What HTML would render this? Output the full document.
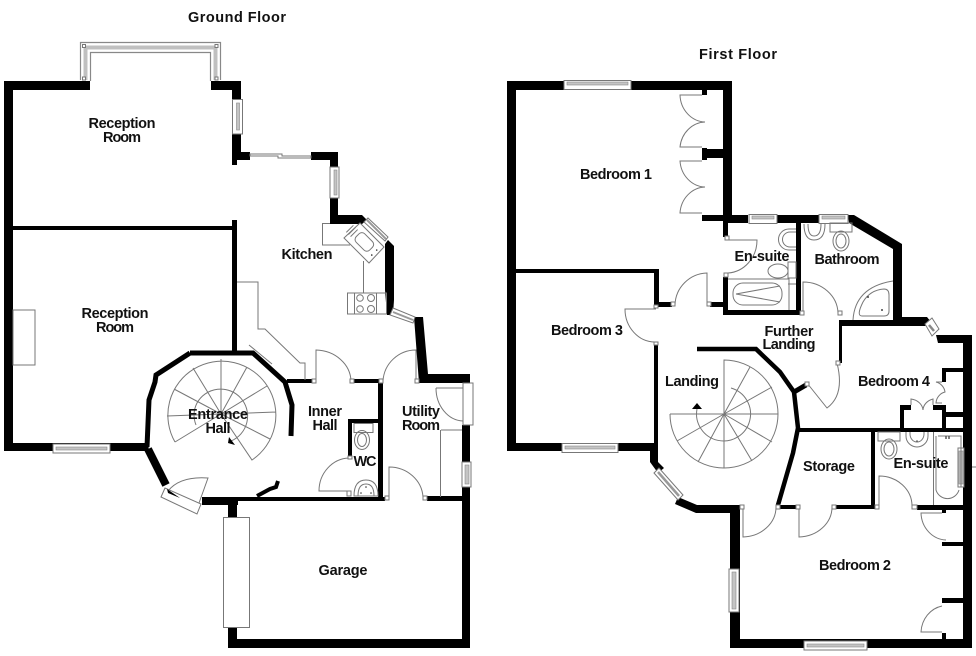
<!DOCTYPE html>
<html><head><meta charset="utf-8"><style>
html,body{margin:0;padding:0;background:#fff}
svg{display:block;filter:blur(.35px)}
text{font-family:"Liberation Sans",sans-serif;font-weight:bold;font-size:14.5px;fill:#111;text-anchor:middle}
.t{fill:none;stroke:#777;stroke-width:1}
.w{fill:#000}
.k{fill:none;stroke:#000}
.win{fill:#fff;stroke:#777;stroke-width:1}
.g{fill:#c4c4c4;stroke:#888;stroke-width:.6}
.h{fill:#fff;stroke:#777;stroke-width:1}
</style></head><body>
<svg width="976" height="656" viewBox="0 0 976 656" xmlns="http://www.w3.org/2000/svg">
<!-- GROUND FLOOR walls -->
<path class="w" d="M4 81H90V90H13V443H148L149 451H4Z"/>
<path class="w" d="M211 81H241V99H232V90H211Z"/>
<path class="w" d="M232 134H241V152H250V160H237V165H232Z"/>
<path class="w" d="M311 152H338V167H330V160H311Z"/>
<path class="w" d="M330 198H338V215H362L367 220L362 224H330Z"/>
<path class="w" d="M385 244L388 240L394 246V300L393 315H387L385 290Z"/>
<path class="w" d="M414 317H423L428 374H470V383H419Z"/>
<path class="w" d="M462 425H470V648H228V628H237V639H462Z"/>
<rect class="w" x="228" y="497" width="9" height="20"/>
<rect class="w" x="202" y="497" width="36" height="8"/>
<rect class="w" x="237" y="497" width="148" height="4"/>
<rect class="w" x="427" y="496" width="36" height="5"/>
<rect class="w" x="378" y="383" width="5" height="115"/>
<rect class="w" x="287" y="379" width="25" height="4"/>
<rect class="w" x="353" y="379" width="27" height="4"/>
<rect class="w" x="348" y="419" width="32" height="4"/>
<rect class="w" x="348" y="419" width="4" height="38"/>
<rect class="w" x="13" y="226" width="220" height="4"/>
<rect class="w" x="232" y="220" width="5" height="132"/>
<path class="k" stroke-width="5" d="M190 353H253L285 382L292 405L291 436"/>
<path class="k" stroke-width="5" d="M190 353L156 375L155 382L149 400L147 447"/>
<path class="k" stroke-width="8" d="M148 449L166 485"/>
<path class="k" stroke-width="4" d="M257 496L270 489L276 487L278 481"/>
<!-- reception details -->
<rect class="t" x="13" y="310" width="22" height="55"/>
<path d="M80.500 80V42.500H220.500V80M90.500 81V52.500H210.500V81" fill="none" stroke="#888" stroke-width="1.200"/>
<path d="M85.500 80V47.500H215.500V80" fill="none" stroke="#c0c0c0" stroke-width="4"/>
<rect class="h" x="82.500" y="44.500" width="3" height="3"/>
<rect class="h" x="215" y="44.500" width="3" height="3"/>
<rect class="h" x="82.500" y="77" width="3" height="3"/>
<rect class="h" x="215" y="77" width="3" height="3"/>
<rect class="win" x="232.500" y="99.500" width="10" height="34.500"/>
<rect class="g" x="236.500" y="103" width="3" height="27"/>
<path class="win" d="M250 154H282V156H311V158H278V156H250Z"/>
<rect class="win" x="330" y="167" width="9" height="31"/>
<rect class="g" x="334" y="170" width="3" height="25"/>
<!-- kitchen -->
<path class="t" d="M330 223.500H322.500V245H350"/>
<path class="win" d="M344 238L360 223L384 247L369 263Z"/>
<g transform="rotate(45 364 243)">
<rect class="t" x="354" y="236" width="19" height="12" rx="4"/>
<path class="t" d="M344 238V248M347 238V248M350 238V248"/>
<circle cx="378" cy="239" r=".8" fill="#333"/><circle cx="378" cy="246" r=".8" fill="#333"/>
</g>
<path class="win" d="M368 218L388 237L385 241L364 222Z"/>
<path d="M367 220L386 239" stroke="#999" stroke-width="2" fill="none"/>
<path class="t" d="M363.500 261V293"/>
<rect class="t" x="347.500" y="293" width="39" height="21"/>
<rect class="t" x="354.500" y="293" width="22" height="21"/>
<circle class="t" cx="360" cy="298" r="3.300"/><circle class="t" cx="371" cy="298" r="3.500"/><circle class="t" cx="360" cy="309" r="3.300"/><circle class="t" cx="371" cy="309" r="3.500"/>
<path class="win" d="M393 308L415 317L413 323L390 315Z"/>
<path d="M393 312L413 320" stroke="#999" stroke-width="2" fill="none"/>
<path class="t" d="M237 282H258V329H265L300 363H305V380M249 345L272 364"/>
<!-- stairs ground -->
<path class="t" d="M175 442A54 54 0 1 1 252 460L221 414L175 442M167 416L221 414M174 389L221 414M193 368L221 414M221 359V414M247 367L221 414M267 386L221 414M276 412L221 414M270 439L221 414"/>
<path class="t" d="M197 403A27 27 0 1 1 231 441M197 403A27 27 0 0 0 196 425"/>
<path class="w" d="M229 437L235 445L228 443Z"/>
<!-- doors ground -->
<path class="t" d="M316 381V350A36 32 0 0 1 351 381"/>
<path class="t" d="M416 381V350A33 33 0 0 0 383 381"/>
<path class="t" d="M389 497V467A34 32 0 0 1 423 497"/>
<path class="t" d="M350 491H319A31 33 0 0 1 349 458"/>
<path class="t" d="M436 388H463M436 388A28 33 0 0 0 463 421"/>
<rect class="win" x="463" y="383" width="10" height="42"/>
<path class="t" d="M441 430H462M440.500 430V497"/>
<rect class="win" x="462" y="462" width="9" height="25"/>
<rect class="g" x="465" y="465" width="4" height="19"/>
<path class="win" d="M165 488L161 497L197 514L201 504Z"/>
<path class="t" d="M168 491Q180 476 208 478L199 503"/>
<path class="w" d="M167 489L180 498L168 493Z"/>
<rect class="win" x="223.500" y="517.500" width="26" height="110"/>
<rect class="win" x="53" y="444" width="57" height="9"/>
<rect class="g" x="56" y="447" width="51" height="3"/>
<!-- WC -->
<rect class="t" x="354" y="423.500" width="19" height="9"/>
<ellipse class="t" cx="362" cy="440" rx="7.500" ry="9.500"/><ellipse class="t" cx="362" cy="440" rx="4.500" ry="6.500"/>
<path class="t" d="M354 496Q354 480 366 480Q378 480 378 496Z"/><path class="t" d="M358 496Q358 484 366 484Q374 484 374 496Z"/>
<circle cx="366" cy="487" r=".8" fill="#333"/><circle cx="361" cy="493" r=".8" fill="#333"/><circle cx="371" cy="493" r=".8" fill="#333"/>
<rect class="h" x="348" y="456" width="4" height="3"/>
<rect class="h" x="347" y="491" width="4" height="5"/>
<rect class="h" x="312" y="379" width="4" height="4"/>
<rect class="h" x="350" y="379" width="4" height="4"/>
<rect class="h" x="415" y="379" width="4" height="4"/>
<rect class="h" x="379" y="379" width="4" height="4"/>
<rect class="h" x="385" y="496" width="4" height="4"/>
<rect class="h" x="423" y="496" width="4" height="4"/>

<!-- FIRST FLOOR walls -->
<path class="w" d="M507 81H564V90H516V443H562V451H507Z"/>
<rect class="w" x="618" y="443" width="33" height="8"/>
<path class="w" d="M631 81H732V215H748V223H728V237H723V158H707V160H702V148H707V149H723V90H707V95H702V90H631Z"/>
<path class="w" d="M702 215H723V221H702Z"/>
<path class="w" d="M777 215H819V223H801V315H723V277H728V310H796V223H777Z"/>
<path class="w" d="M848 215H854L902 244V317H927L931 322L925 326H842V363H839V320H893V249L849 223Z"/>
<path class="w" d="M936 335H972V648H730V505H740V639H963V343H938Z"/>
<rect class="w" x="516" y="269" width="142" height="4"/>
<rect class="w" x="654" y="269" width="5" height="38"/>
<rect class="w" x="654" y="302" width="18" height="5"/>
<rect class="w" x="710" y="302" width="15" height="5"/>
<rect class="w" x="654" y="343" width="4" height="100"/>
<path class="w" d="M650 443H658V462L664 468L658 473L650 462Z"/>
<path class="w" d="M678 497L697 505H740V513H696L675 504Z"/>
<path class="k" stroke-width="4.500" d="M697 349H756L780 372L794 392L798 428L793 453L778 505"/>
<path class="k" stroke-width="5" d="M794 392L806 385"/>
<rect class="w" x="798" y="428" width="165" height="4"/>
<rect class="w" x="871" y="432" width="4" height="73"/>
<rect class="w" x="778" y="505" width="19" height="4"/>
<rect class="w" x="835" y="505" width="40" height="4"/>
<rect class="w" x="917" y="505" width="46" height="5"/>
<rect class="w" x="942" y="510" width="4" height="3"/>
<rect class="w" x="942" y="542" width="21" height="4"/>
<rect class="w" x="942" y="598" width="21" height="5"/>
<rect class="w" x="942" y="633" width="4" height="6"/>
<rect class="w" x="942" y="368" width="21" height="4"/>
<rect class="w" x="942" y="368" width="4" height="14"/>
<rect class="w" x="945" y="412" width="18" height="5"/>
<rect class="w" x="942" y="405" width="4" height="24"/>
<rect class="w" x="933" y="405" width="12" height="5"/>
<rect class="w" x="900" y="405" width="11" height="5"/>
<rect class="w" x="900" y="405" width="4" height="24"/>
<!-- windows first -->
<rect class="win" x="564" y="80.500" width="67" height="9"/>
<rect class="g" x="567" y="82" width="61" height="3"/>
<rect class="win" x="749" y="214.500" width="28" height="9"/>
<rect class="g" x="752" y="216" width="22" height="3"/>
<rect class="win" x="819" y="214.500" width="29" height="9"/>
<rect class="g" x="822" y="216" width="23" height="3"/>
<rect class="win" x="562" y="443.500" width="56" height="9"/>
<rect class="g" x="565" y="446" width="50" height="3"/>
<rect class="win" x="729" y="569" width="10" height="43"/>
<rect class="g" x="732" y="572" width="4" height="37"/>
<rect class="win" x="804" y="641" width="63" height="9"/>
<rect class="g" x="807" y="644" width="57" height="3"/>
<path class="win" d="M654 473L659 468L683 495L678 500Z"/>
<path d="M658 472L679 496" stroke="#999" stroke-width="2.500" fill="none"/>
<path class="win" d="M925 324L932 318L939 329L932 336Z"/>
<path d="M929 325L934 331" stroke="#888" stroke-width="2.500" fill="none"/>
<rect class="win" x="958" y="448" width="6" height="39"/>
<rect class="g" x="959" y="451" width="4" height="33"/>
<!-- doors first -->
<path class="t" d="M702 95H680A26 28 0 0 0 705 122A26 28 0 0 0 680 147H702"/>
<path class="t" d="M702 161H680A26 28 0 0 0 705 187A26 28 0 0 0 680 213H702"/>
<path class="t" d="M726 240H757A31 33 0 0 1 728 273"/>
<path class="t" d="M707 303V273A33 33 0 0 0 675 305"/>
<path class="t" d="M656 309H625A30 33 0 0 0 655 342"/>
<path class="t" d="M803 313V282A35 32 0 0 1 838 313"/>
<path class="t" d="M807 383L827 408Q845 395 837 363"/>
<path class="t" d="M743 507V537A34 30 0 0 0 776 507"/>
<path class="t" d="M799 507V537A34 30 0 0 0 832 507"/>
<path class="t" d="M879 506V476A33 30 0 0 1 912 506"/>
<path class="t" d="M942 513H921A26 28 0 0 0 946 540"/>
<path class="t" d="M942 632H921A26 28 0 0 1 942 606"/>
<path class="t" d="M911 405V399A14 12 0 0 1 923 410A14 12 0 0 1 933 399V405"/>
<path class="t" d="M942 382H936A12 12 0 0 1 945 392A12 12 0 0 0 936 403H942"/>
<!-- landing stair -->
<path class="t" d="M670 414A54 54 0 1 0 724 360V414H670M750 367L724 414M772 387L724 414M778 414H724M772 442L724 414M752 461L724 414M724 468V414M698 462L724 414M677 441L724 414"/>
<path class="t" d="M731 388A27 27 0 1 1 697 409"/>
<path class="w" d="M692 409H702L697 403Z"/>
<!-- en-suite 1 -->
<path class="t" d="M796 229H789A10.500 10.500 0 0 0 789 250H796"/>
<path class="t" d="M796 232H790A7.500 7.500 0 0 0 790 247H796"/>
<ellipse class="t" cx="778" cy="271" rx="10" ry="7"/>
<rect class="t" x="788" y="262" width="8" height="16"/>
<path class="t" d="M728 279H789V310M788 284H796"/>
<rect class="t" x="733" y="283" width="49" height="22" rx="10"/>
<path class="t" d="M736 294L780 286M736 294L780 302"/>
<!-- bathroom -->
<path class="t" d="M804 224Q804 240 814 240Q825 240 825 224"/>
<path class="t" d="M808 224Q808 236 814 236Q821 236 821 224"/>
<rect class="t" x="830" y="223" width="22" height="9"/>
<ellipse class="t" cx="841" cy="241" rx="8" ry="10"/><ellipse class="t" cx="841" cy="241" rx="5" ry="7"/>
<path class="t" d="M853 320Q855 287 893 281"/>
<path class="t" d="M862 316Q856 316 863 302Q870 290 884 289Q889 289 889 295V311Q889 316 884 316Z"/>
<circle cx="868" cy="297" r="1" fill="#444"/><circle cx="882" cy="310" r="1" fill="#444"/>
<!-- en-suite 2 -->
<rect class="t" x="878" y="432" width="22" height="9"/>
<ellipse class="t" cx="889" cy="449" rx="8" ry="10"/><ellipse class="t" cx="889" cy="449" rx="5" ry="7"/>
<path class="t" d="M906 432V436A11 11 0 0 0 928 436V432"/>
<path class="t" d="M910 432V434A7 8 0 0 0 924 434V432"/>
<path class="t" d="M933.500 432V505M938 436H961V487M936 436V490A12 12 0 0 0 959 490"/>
<circle cx="917" cy="441" r=".8" fill="#444"/>
<path d="M946 436V439M949 436V439" stroke="#555" stroke-width="1.500"/>
<path class="t" d="M972 467H976"/>
<!-- hinges -->
<rect class="h" x="725" y="236" width="4" height="4"/>
<rect class="h" x="724" y="273" width="4" height="4"/>
<rect class="h" x="671" y="302" width="4" height="4"/>
<rect class="h" x="707" y="302" width="4" height="4"/>
<rect class="h" x="654" y="305" width="4" height="3"/>
<rect class="h" x="654" y="342" width="4" height="3"/>
<rect class="h" x="800" y="311" width="4" height="4"/>
<rect class="h" x="838" y="311" width="4" height="4"/>
<rect class="h" x="836" y="361" width="4" height="4"/>
<rect class="h" x="805" y="382" width="4" height="4"/>
<rect class="h" x="740" y="505" width="4" height="4"/>
<rect class="h" x="776" y="505" width="4" height="4"/>
<rect class="h" x="796" y="505" width="4" height="4"/>
<rect class="h" x="832" y="505" width="4" height="4"/>
<rect class="h" x="875" y="505" width="4" height="4"/>
<rect class="h" x="912" y="505" width="5" height="4"/>
<!-- labels -->
<text x="237" y="22" textLength="98" lengthAdjust="spacing">Ground Floor</text>
<text x="738" y="59" textLength="78" lengthAdjust="spacing">First Floor</text>
<text x="122" y="128" textLength="67" lengthAdjust="spacing">Reception</text>
<text x="122" y="142" textLength="38" lengthAdjust="spacing">Room</text>
<text x="115" y="318" textLength="67" lengthAdjust="spacing">Reception</text>
<text x="115" y="332" textLength="38" lengthAdjust="spacing">Room</text>
<text x="307" y="259" textLength="51" lengthAdjust="spacing">Kitchen</text>
<text x="218" y="419" textLength="60" lengthAdjust="spacing">Entrance</text>
<text x="218" y="433" textLength="25" lengthAdjust="spacing">Hall</text>
<text x="325" y="416" textLength="34" lengthAdjust="spacing">Inner</text>
<text x="325" y="430" textLength="25" lengthAdjust="spacing">Hall</text>
<text x="421" y="416" textLength="38" lengthAdjust="spacing">Utility</text>
<text x="421" y="430" textLength="38" lengthAdjust="spacing">Room</text>
<text x="365" y="466" textLength="23" lengthAdjust="spacing">WC</text>
<text x="343" y="575" textLength="49" lengthAdjust="spacing">Garage</text>
<text x="616" y="179" textLength="72" lengthAdjust="spacing">Bedroom 1</text>
<text x="587" y="335" textLength="72" lengthAdjust="spacing">Bedroom 3</text>
<text x="762" y="261" textLength="55" lengthAdjust="spacing">En-suite</text>
<text x="847" y="264" textLength="65" lengthAdjust="spacing">Bathroom</text>
<text x="789" y="336" textLength="49" lengthAdjust="spacing">Further</text>
<text x="789" y="349" textLength="53" lengthAdjust="spacing">Landing</text>
<text x="692" y="386" textLength="54" lengthAdjust="spacing">Landing</text>
<text x="894" y="386" textLength="72" lengthAdjust="spacing">Bedroom 4</text>
<text x="829" y="471" textLength="52" lengthAdjust="spacing">Storage</text>
<text x="921" y="468" textLength="55" lengthAdjust="spacing">En-suite</text>
<text x="855" y="570" textLength="72" lengthAdjust="spacing">Bedroom 2</text>
</svg>
</body></html>
